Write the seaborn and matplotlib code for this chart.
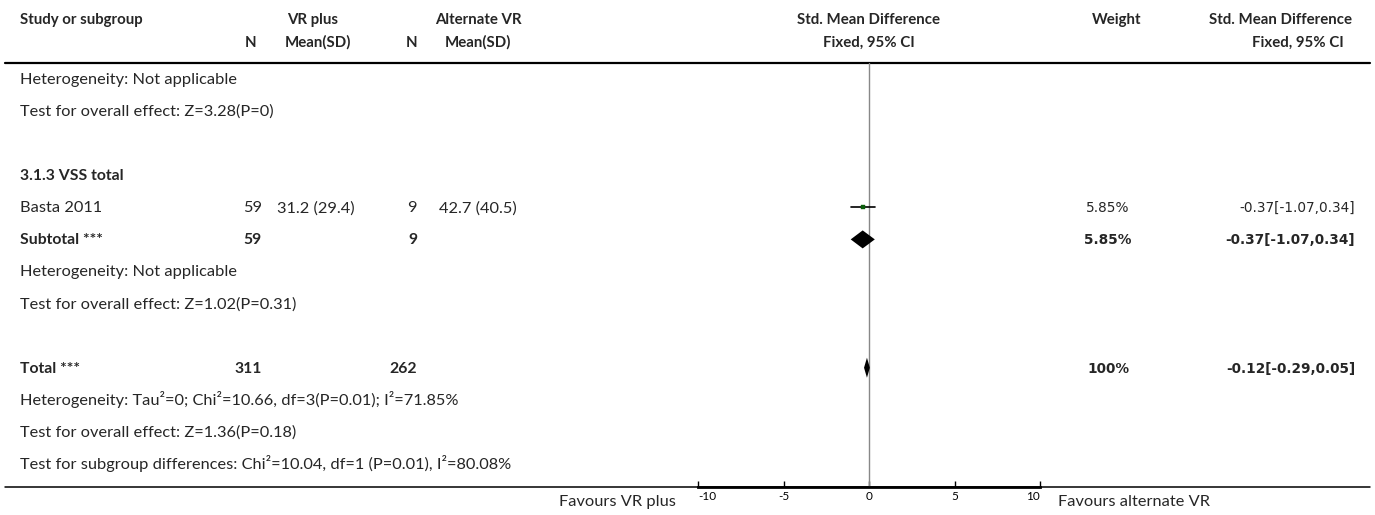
import matplotlib
matplotlib.use("Agg")
import numpy as np
import matplotlib.pyplot as plt
import seaborn as sns

# ----------------- Dados -----------------
row_labels = [
    "Heterogeneity: Not applicable",
    "Test for overall effect: Z=3.28(P=0)",
    "",
    "3.1.3 VSS total",
    "Basta 2011",
    "Subtotal ***",
    "Heterogeneity: Not applicable",
    "Test for overall effect: Z=1.02(P=0.31)",
    "",
    "Total ***",
    "Heterogeneity: Tau²=0; Chi²=10.66, df=3(P=0.01); I²=71.85%",
    "Test for overall effect: Z=1.36(P=0.18)",
    "Test for subgroup differences: Chi²=10.04, df=1 (P=0.01), I²=80.08%",
]
bold_rows = [3, 5, 9]

# estudo individual
study_row = [4]
study_n1 = [59]
study_mean1 = ["31.2 (29.4)"]
study_n2 = [9]
study_mean2 = ["42.7 (40.5)"]
study_smd = [-0.37]
study_lo = [-1.07]
study_hi = [0.34]
study_weight = ["5.85%"]

# subtotal e total (diamantes)
pooled_row = [5, 9]
pooled_n1 = [59, 311]
pooled_n2 = [9, 262]
pooled_smd = [-0.37, -0.12]
pooled_lo = [-1.07, -0.29]
pooled_hi = [0.34, 0.05]
pooled_weight = ["5.85%", "100%"]

x_ticks = [-10, -5, 0, 5, 10]

# ----------------- Layout (pixels) -----------------
W, H = 1375, 515
ROW0, DY = 79, 32.08
Y_TOP, Y_BOT = 63, 487
FX0, FX1 = 698, 1040
BASE = 5  # deslocamento centro -> baseline

def ry(i):
    return ROW0 + i * DY

sns.set_theme(style="white")
plt.rcParams['font.family'] = ['Lato', 'DejaVu Sans']
FS = 11.8
FSB = 11.3
FSH = 10.8
NUMF = dict(family='DejaVu Sans', fontsize=9.8)

fig = plt.figure(figsize=(W / 100, H / 100), dpi=100)
ax = fig.add_axes([0, 0, 1, 1])
ax.set_xlim(0, W)
ax.set_ylim(H, 0)
ax.axis("off")

# cabeçalho
hdr = dict(fontsize=FSH, fontweight='bold', va='baseline')
ax.text(20, 19 + BASE, "Study or subgroup", ha='left', **hdr)
ax.text(313, 19 + BASE, "VR plus", ha='center', **hdr)
ax.text(478, 19 + BASE, "Alternate VR", ha='center', **hdr)
ax.text(869, 19 + BASE, "Std. Mean Difference", ha='center', **hdr)
ax.text(1117, 19 + BASE, "Weight", ha='center', **hdr)
ax.text(1281, 19 + BASE, "Std. Mean Difference", ha='center', **hdr)
ax.text(251, 42 + BASE, "N", ha='center', **hdr)
ax.text(318, 42 + BASE, "Mean(SD)", ha='center', **hdr)
ax.text(412, 42 + BASE, "N", ha='center', **hdr)
ax.text(478, 42 + BASE, "Mean(SD)", ha='center', **hdr)
ax.text(869, 42 + BASE, "Fixed, 95% CI", ha='center', **hdr)
ax.text(1298, 42 + BASE, "Fixed, 95% CI", ha='center', **hdr)

ax.plot([5, 1370], [Y_TOP, Y_TOP], color='black', lw=1.6)
ax.plot([5, 1370], [Y_BOT, Y_BOT], color='black', lw=1.1)

# linhas de texto
for i, lab in enumerate(row_labels):
    if lab:
        b = i in bold_rows
        ax.text(20, ry(i) + BASE, lab, ha='left', va='baseline',
                fontsize=FSB if b else FS, fontweight='bold' if b else 'normal')

for i, r in enumerate(study_row):
    y = ry(r) + BASE
    ax.text(262, y, str(study_n1[i]), ha='right', va='baseline', fontsize=FS)
    ax.text(316, y, study_mean1[i], ha='center', va='baseline', fontsize=FS)
    ax.text(417, y, str(study_n2[i]), ha='right', va='baseline', fontsize=FS)
    ax.text(478, y, study_mean2[i], ha='center', va='baseline', fontsize=FS)
    ax.text(1108, y, study_weight[i], ha='center', va='baseline', **NUMF)
    ax.text(1355, y, f"{study_smd[i]:.2f}[{study_lo[i]:.2f},{study_hi[i]:.2f}]",
            ha='right', va='baseline', **NUMF)

for i, r in enumerate(pooled_row):
    y = ry(r) + BASE
    ax.text(262, y, str(pooled_n1[i]), ha='right', va='baseline', fontsize=FSB, fontweight='bold')
    ax.text(417, y, str(pooled_n2[i]), ha='right', va='baseline', fontsize=FSB, fontweight='bold')
    ax.text(1108, y, pooled_weight[i], ha='center', va='baseline', fontweight='bold', **NUMF)
    ax.text(1355, y, f"{pooled_smd[i]:.2f}[{pooled_lo[i]:.2f},{pooled_hi[i]:.2f}]",
            ha='right', va='baseline', fontweight='bold', **NUMF)

ax.text(676, 501 + BASE, "Favours VR plus", ha='right', va='baseline', fontsize=FS)
ax.text(1058, 501 + BASE, "Favours alternate VR", ha='left', va='baseline', fontsize=FS)

# ----------------- Forest plot -----------------
fa = fig.add_axes([FX0 / W, 1 - Y_BOT / H, (FX1 - FX0) / W, (Y_BOT - Y_TOP) / H])
fa.set_xlim(-10, 10)
fa.set_ylim(Y_BOT, Y_TOP)
fa.patch.set_alpha(0)
for s in ['top', 'left', 'right']:
    fa.spines[s].set_visible(False)
fa.spines['bottom'].set_linewidth(2)
fa.spines['bottom'].set_color('black')
fa.set_yticks([])
fa.set_xticks(x_ticks)
fa.set_xticklabels([str(t) for t in x_ticks])
fa.tick_params(axis='x', bottom=True, direction='in', length=4, width=1,
               labelsize=8.5, pad=3, colors='black')
tl = fa.get_xticklabels()
tl[0].set_ha('left')
tl[-1].set_ha('right')
fa.axvline(0, color='#888888', lw=1, zorder=1)

ys = [ry(r) for r in study_row]
for i in range(len(study_row)):
    fa.plot([study_lo[i], study_hi[i]], [ys[i], ys[i]], color='black', lw=1.2, zorder=3)
sns.scatterplot(x=study_smd, y=ys, marker='s', s=12, color='#0b5e0b',
                edgecolor='#0b5e0b', ax=fa, zorder=4, legend=False)

heights = [9, 10]
for i, r in enumerate(pooled_row):
    y = ry(r)
    h = heights[i]
    fa.fill([pooled_lo[i], pooled_smd[i], pooled_hi[i], pooled_smd[i]],
            [y, y - h, y, y + h], color='black', zorder=4, lw=0)

fig.savefig("out.png", dpi=100)
